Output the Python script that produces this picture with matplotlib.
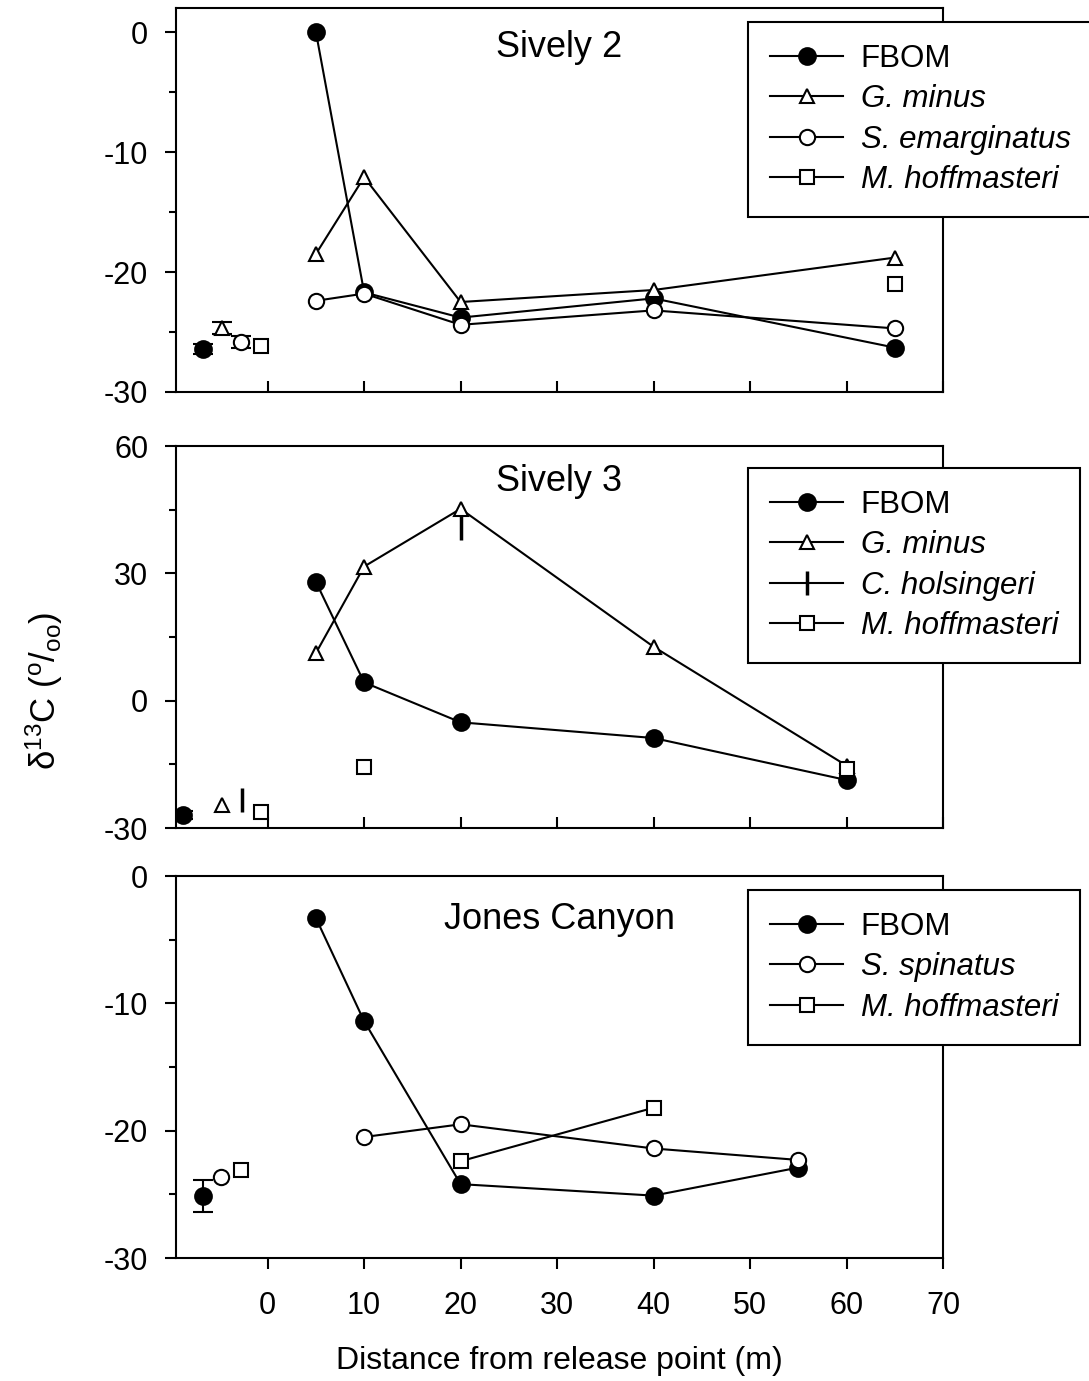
import matplotlib
matplotlib.use("Agg")
from matplotlib import pyplot as plt
from matplotlib.ticker import MultipleLocator
from matplotlib.lines import Line2D
import numpy as np

plt.rcParams['font.family'] = ['Liberation Sans', 'DejaVu Sans']
plt.rcParams['mathtext.fontset'] = 'custom'
plt.rcParams['mathtext.rm'] = 'Liberation Sans'
plt.rcParams['mathtext.it'] = 'Liberation Sans:italic'
plt.rcParams['axes.unicode_minus'] = False

# Sively 2
s2_bg_x = [-6.7, -4.7, -2.8, -0.7]
s2_bg_y = [-26.4, -24.7, -25.8, -26.2]
s2_bg_err = [0.4, 0.5, 0.5, 0.0]
s2_x = [5, 10, 20, 40, 65]
s2_fbom = [0.0, -21.7, -23.8, -22.2, -26.3]
s2_gmin = [-18.5, -12.1, -22.5, -21.5, -18.8]
s2_semarg = [-22.4, -21.8, -24.4, -23.2, -24.7]
s2_mhoff_x = [65]
s2_mhoff = [-21.0]

# Sively 3
s3_bg_x = [-8.8, -4.7, -2.7, -0.7]
s3_bg_y = [-26.9, -24.6, -23.4, -26.2]
s3_bg_err = [1.0, 0.0, 0.0, 0.0]
s3_x = [5, 10, 20, 40, 60]
s3_fbom = [28.0, 4.3, -5.1, -8.8, -18.7]
s3_gmin = [11.2, 31.6, 45.2, 12.7, -15.3]
s3_chols_x = [20]
s3_chols = [40.7]
s3_mhoff_x = [10, 60]
s3_mhoff = [-15.6, -16.2]

# Jones Canyon
jc_bg_x = [-6.7, -4.8, -2.8]
jc_bg_y = [-25.1, -23.6, -23.1]
jc_bg_err = [1.25, 0.0, 0.0]
jc_x = [5, 10, 20, 40, 55]
jc_fbom = [-3.3, -11.4, -24.2, -25.1, -22.9]
jc_sspin_x = [10, 20, 40, 55]
jc_sspin = [-20.5, -19.5, -21.4, -22.3]
jc_mhoff_x = [20, 40]
jc_mhoff = [-22.4, -18.2]

FS = 22
LFS = 22.5
TFS = 26
lw = 1.5
ms = 10.5

fig = plt.figure(figsize=(10.89, 13.81), dpi=100)
left, width = 176/1089, 767/1089
ax1 = fig.add_axes([left, 1-392/1381, width, 384/1381])
ax2 = fig.add_axes([left, 1-828/1381, width, 382/1381])
ax3 = fig.add_axes([left, 1-1258/1381, width, 382/1381])

styles = {
    'fbom': dict(marker='o', color='black', markerfacecolor='black', markersize=12),
    'tri': dict(marker='^', color='black', markerfacecolor='white', markersize=ms),
    'circ': dict(marker='o', color='black', markerfacecolor='white', markersize=ms + 0.5),
    'sq': dict(marker='s', color='black', markerfacecolor='white', markersize=ms - 1),
    'bar': dict(marker='|', color='black', markersize=17),
}

def background(ax, xs, ys, errs, keys):
    for x, y, e, k in zip(xs, ys, errs, keys):
        ax.errorbar([x], [y], yerr=[e] if e else None, linestyle='none', ecolor='black',
                    elinewidth=lw, capsize=7, capthick=lw,
                    markeredgewidth=2.5 if k == 'bar' else lw, **styles[k])

def series(ax, xs, ys, k, label, line=True):
    h, = ax.plot(xs, ys, linestyle='-' if line else 'none', linewidth=lw,
                 markeredgewidth=2.5 if k == 'bar' else lw, label=label, **styles[k])
    return h

# panel 1
background(ax1, s2_bg_x, s2_bg_y, s2_bg_err, ['fbom', 'tri', 'circ', 'sq'])
h1 = [series(ax1, s2_x, s2_fbom, 'fbom', 'FBOM'),
      series(ax1, s2_x, s2_gmin, 'tri', 'G. minus'),
      series(ax1, s2_x, s2_semarg, 'circ', 'S. emarginatus'),
      series(ax1, s2_mhoff_x, s2_mhoff, 'sq', 'M. hoffmasteri', line=False)]
ax1.set_ylim(-30, 2)
ax1.yaxis.set_major_locator(MultipleLocator(10))
ax1.yaxis.set_minor_locator(MultipleLocator(5))
ax1.text(0.5, 0.898, 'Sively 2', transform=ax1.transAxes, ha='center', va='center', fontsize=TFS)

# panel 2
background(ax2, s3_bg_x, s3_bg_y, s3_bg_err, ['fbom', 'tri', 'bar', 'sq'])
h2 = [series(ax2, s3_x, s3_fbom, 'fbom', 'FBOM'),
      series(ax2, s3_x, s3_gmin, 'tri', 'G. minus'),
      series(ax2, s3_chols_x, s3_chols, 'bar', 'C. holsingeri', line=False),
      series(ax2, s3_mhoff_x, s3_mhoff, 'sq', 'M. hoffmasteri', line=False)]
ax2.set_ylim(-30, 60)
ax2.yaxis.set_major_locator(MultipleLocator(30))
ax2.yaxis.set_minor_locator(MultipleLocator(15))
ax2.text(0.5, 0.908, 'Sively 3', transform=ax2.transAxes, ha='center', va='center', fontsize=TFS)

# panel 3
background(ax3, jc_bg_x, jc_bg_y, jc_bg_err, ['fbom', 'circ', 'sq'])
h3 = [series(ax3, jc_x, jc_fbom, 'fbom', 'FBOM'),
      series(ax3, jc_sspin_x, jc_sspin, 'circ', 'S. spinatus'),
      series(ax3, jc_mhoff_x, jc_mhoff, 'sq', 'M. hoffmasteri')]
ax3.set_ylim(-30, 0)
ax3.yaxis.set_major_locator(MultipleLocator(10))
ax3.yaxis.set_minor_locator(MultipleLocator(5))
ax3.text(0.5, 0.885, 'Jones Canyon', transform=ax3.transAxes, ha='center', va='center', fontsize=TFS)

for ax, hs, top in [(ax1, h1, 0.9635), (ax2, h2, 0.942), (ax3, h3, 0.963)]:
    handles = []
    for h in hs:
        handles.append(Line2D([], [], color='black', linewidth=lw, marker=h.get_marker(),
                              markerfacecolor=h.get_markerfacecolor(),
                              markersize=h.get_markersize(),
                              markeredgewidth=h.get_markeredgewidth()))
    leg = ax.legend(handles, [h.get_label() for h in hs], loc='upper left',
                    bbox_to_anchor=(0.7458, top), fontsize=LFS, frameon=True, fancybox=False,
                    edgecolor='black', framealpha=1, handlelength=2.35, handletextpad=0.55,
                    labelspacing=0.33, borderpad=0.7, borderaxespad=0)
    leg.get_frame().set_linewidth(1.5)
    for t in leg.get_texts():
        if t.get_text() != 'FBOM':
            t.set_fontstyle('italic')
    ax.set_xlim(-9.5, 70)
    ax.set_xticks(np.arange(0, 71, 10))
    for s in ax.spines.values():
        s.set_linewidth(1.5)
    ax.tick_params(axis='y', which='major', direction='out', length=8, width=1.5, labelsize=FS, pad=12)
    ax.tick_params(axis='y', which='minor', direction='out', length=5, width=1.5)

for ax in (ax1, ax2):
    ax.tick_params(axis='x', direction='in', length=8, width=1.5, labelbottom=False)
ax3.tick_params(axis='x', direction='out', length=8, width=1.5, labelsize=FS, pad=16)
ax3.set_xlabel('Distance from release point (m)', fontsize=23, labelpad=18)

fig.text(0.041, 0.5, 'δ$^{\\mathrm{13}}$C ($^{\\mathrm{o}}$/$_{\\mathrm{oo}}$)', rotation=90,
         ha='center', va='center', fontsize=25)

fig.savefig('out.png', dpi=100)
